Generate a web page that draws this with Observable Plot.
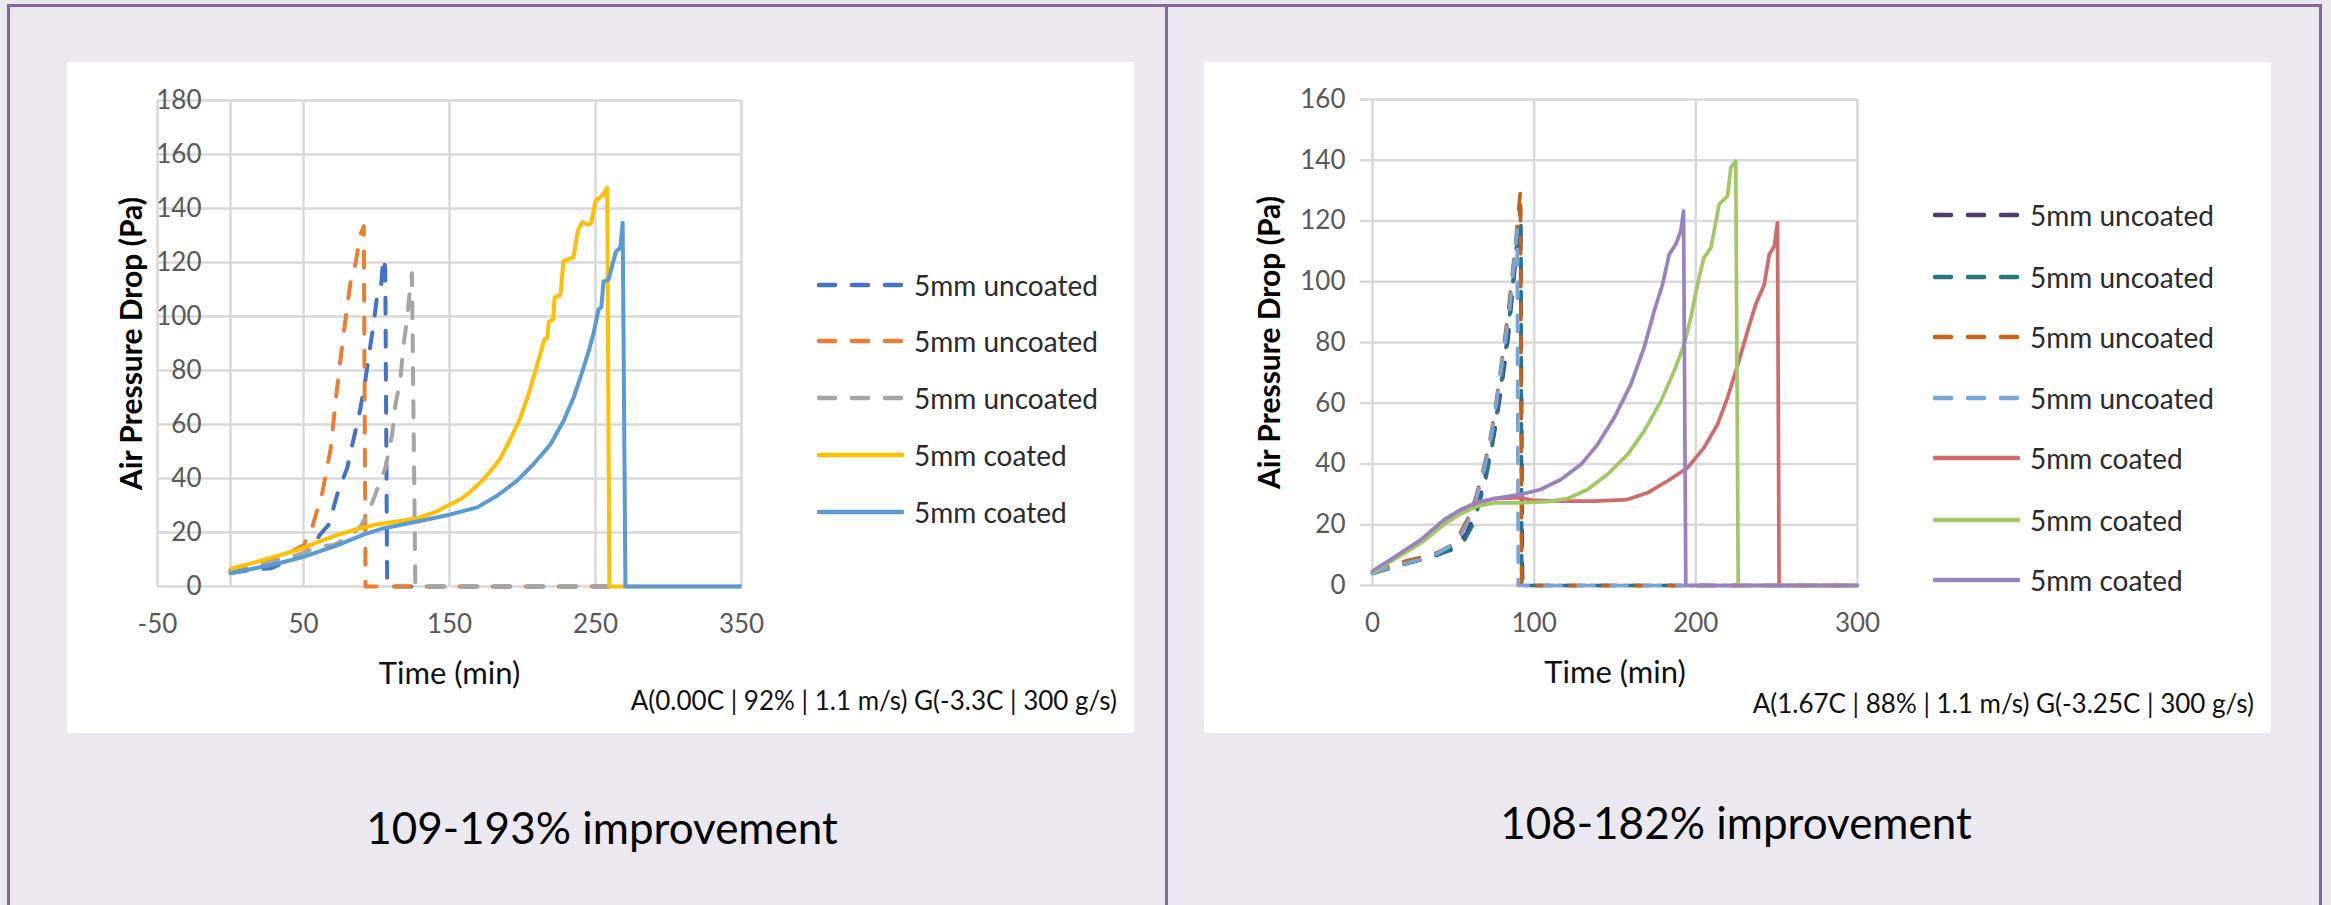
<!DOCTYPE html>
<html>
<head>
<meta charset="utf-8">
<script src="https://cdn.jsdelivr.net/npm/d3@7"></script>
<script src="https://cdn.jsdelivr.net/npm/@observablehq/plot@0.6"></script>
<style>
  html, body { margin: 0; padding: 0; }
  body { width: 2331px; height: 905px; background: #EBE9EF; position: relative; overflow: hidden; font-family: Lato, "Open Sans", sans-serif; }
  .frame { position: absolute; left: 7px; top: 4px; width: 2315px; height: 960px; border: 3px solid #8166A6; box-sizing: border-box; }
  .divider { position: absolute; left: 1165px; top: 4px; width: 3px; height: 905px; background: #8166A6; }
  .box { position: absolute; top: 62px; width: 1067px; height: 671px; background: #fff; }
  .box svg.chart { position: absolute; left: 0; top: 0; }
  .leg { position: absolute; height: 40px; display: flex; align-items: center; font-size: 28px; color: #2b2b2b; white-space: nowrap; }
  .leg svg { margin-right: 10px; }
  .note { position: absolute; font-size: 26px; line-height: 30px; color: #111; white-space: nowrap; }
  .sub { position: absolute; width: 700px; text-align: center; font-size: 44px; line-height: 54px; color: #000; white-space: nowrap; }
  g[aria-label="y-axis label"] { font-size: 30px !important; font-weight: 700 !important; fill: #000 !important; }
  g[aria-label="x-axis label"] { font-size: 31px !important; fill: #111 !important; }
</style>
</head>
<body>
<div class="frame"></div>
<div class="divider"></div>
<div class="box" id="boxL" style="left:67px"></div>
<div class="box" id="boxR" style="left:1204px"></div>
<script>
// ---------- Left chart data (Time min, Air pressure drop Pa) ----------
const L_xTicks = [-50, 50, 150, 250, 350];
const L_yTicks = [0, 20, 40, 60, 80, 100, 120, 140, 160, 180];
const L_names = ["5mm uncoated", "5mm uncoated", "5mm uncoated", "5mm coated", "5mm coated"];
const L_colors = ["#4472C4", "#ED7D31", "#A5A5A5", "#FFC000", "#5B9BD5"];
const L_dashed = [true, true, true, false, false];

const L_uncoatedBlue = [[0,5],[10,5.8],[20,6.5],[28,6.8],[35,8.5],[45,10.5],[52,13],[58,16],[61,19],[67.5,23],[73,34],[80,44],[84.5,55],[89,66],[92.5,77],[96,90],[98,97],[100.5,108],[103,110],[104.6,121.7],[106,118],[107.3,0],[260,0]];
const L_uncoatedOrange = [[0,6],[10,7.8],[20,9],[30,10.5],[40,12.5],[50.4,15.4],[56,22],[63,35],[68.6,51],[73,73.5],[76.6,89.6],[79.5,102],[82.3,113],[85.7,119.8],[89,130.4],[91.3,133.4],[92.5,0],[258,0]];
const L_uncoatedGray = [[0,5.5],[10,6.8],[20,8],[30,9.5],[40,11],[46,11.7],[55,13.5],[63,15],[71,15.4],[80,18],[89,22.2],[94,27],[98.2,32.7],[106,43.8],[110.7,56.2],[113,67.3],[116.4,77.2],[118.6,89.6],[121,99.4],[123.2,111.8],[124.3,116],[126.6,0],[262,0]];
const L_coatedYellow = [[0,6.5],[10,8],[23,9.9],[35,11.8],[49,14],[60,16.5],[73,19],[85,21],[100,23],[115,24.2],[128,25.3],[140,27.5],[150,30.3],[158,32.5],[164,35],[173,39.5],[180,44],[185,47.6],[191,53.8],[198,61.8],[204,71],[210,82],[215,91.5],[217,92],[218,98],[221,99],[222,107],[226,108],[228,120.5],[233,121.5],[235,122],[238,132],[241,135],[245,134],[247,134.5],[250,142.8],[255,145],[258,147.7],[259.5,0],[350,0]];
const L_coatedBlue = [[0,4.9],[10,6],[23,7.4],[35,8.9],[49,10.8],[60,12.8],[73,15.2],[91,19.2],[105,21.6],[128,24.1],[150,26.6],[169,29.3],[182,33.4],[196,39],[207,45],[219,52.5],[228,61.2],[235,70],[241,79.7],[246,88.4],[249,94.6],[252,102.5],[254,103.5],[255.5,113],[259,113.7],[262,120],[264,124],[267,125.5],[268.6,134.7],[270.5,0],[350,0]];

// ---------- Right chart data ----------
const R_xTicks = [0, 100, 200, 300];
const R_yTicks = [0, 20, 40, 60, 80, 100, 120, 140, 160];
const R_names = ["5mm uncoated", "5mm uncoated", "5mm uncoated", "5mm uncoated", "5mm coated", "5mm coated", "5mm coated"];
const R_colors = ["#4F3C6E", "#2C7385", "#C4621A", "#78A5D8", "#D26A6A", "#A0C864", "#9B82BE"];
const R_dashed = [true, true, true, true, false, false, false];

const R_uncoatedPurple = [[0,4.2],[10,5.8],[20,7.3],[30,8.5],[40,10],[50,12.5],[58,17],[63,23],[67,30],[71,39],[75,49],[78,59],[81,70],[84,82],[86,93],[88,104],[90,114],[91.5,124.5],[92.8,0],[300,0]];
const R_uncoatedTeal = [[0,4],[10,5.5],[20,7],[30,8.5],[40,10],[50,12],[57,15],[62,20],[66,27],[70,35],[74,46],[77,57],[80,68],[83,80],[86,95],[88,106],[90,116],[91.8,120],[92.3,0],[300,0]];
const R_uncoatedOrange = [[0,4.5],[10,6.3],[20,8],[30,9.2],[40,10.8],[48,13],[54,17],[59,22],[64,29],[68,37],[72,46],[75,55],[78,66],[81,78],[84,90],[86,100],[88,110],[90,121],[91.5,130],[92.3,0],[300,0]];
const R_uncoatedLightBlue = [[0,4],[10,5.8],[20,7.2],[30,8.6],[40,10.5],[48,13],[54,16],[59,21],[64,28],[69,38],[73,48],[76,58],[79,69],[82,80],[85,92],[87,103],[88.5,112],[89.5,117],[90.2,0],[300,0]];
const R_coatedRed = [[0,4.7],[13.4,9.1],[30,14.6],[44.3,21.2],[54.6,24.5],[65,27.2],[75.3,28.6],[91.8,28.9],[100,28],[116.5,27.8],[137,27.8],[157.7,28.3],[170,30.5],[182.5,34.4],[194.8,38.7],[205,45.3],[213.4,53],[219.6,61.8],[226,72.8],[232,83.8],[237,92.5],[242.3,99],[245.4,109],[248.5,111.7],[250.5,119.4],[251.5,0],[300,0]];
const R_coatedGreen = [[0,4.2],[13.4,8.6],[30,14],[44.3,20.1],[54.6,23.6],[65,26.1],[75.3,27.2],[91.8,27.2],[108,27.6],[120.6,28.6],[133,31.6],[145.4,36.6],[157.7,43.1],[168,50.8],[178.4,60.7],[186.6,70.6],[192.8,79.4],[196.9,88.1],[201,99.1],[205,107.9],[209.3,111.2],[211.3,116.7],[214.4,125.5],[219.6,128.2],[221.6,137.5],[224.7,139.7],[226.2,0],[300,0]];
const R_coatedPurple = [[0,4.7],[13.4,9.3],[30,15.1],[44.3,21.7],[54.6,25],[65,27.4],[75.3,28.6],[91.8,30],[104,31.6],[116.5,34.9],[128.9,39.8],[139.2,46.4],[149.5,55.2],[159.8,66.2],[168,78.3],[174.2,90.3],[179.4,99.1],[183.5,109],[187.6,112.3],[190.7,116.7],[192.4,123.3],[193.8,0],[300,0]];

const L_series = [L_uncoatedBlue, L_uncoatedOrange, L_uncoatedGray, L_coatedYellow, L_coatedBlue];
const R_series = [R_uncoatedPurple, R_uncoatedTeal, R_uncoatedOrange, R_uncoatedLightBlue, R_coatedRed, R_coatedGreen, R_coatedPurple];

const fmt = d => String(d);
const GRID = "#D9D9D9";

function chart(cfg) {
  const marks = [
    Plot.gridX(cfg.xTicks, {stroke: GRID, strokeOpacity: 1, strokeWidth: 2.5}),
    Plot.gridY(cfg.yTicks, {stroke: GRID, strokeOpacity: 1, strokeWidth: 2.5})
  ];
  if (cfg.axisAt0) marks.push(Plot.ruleX([0], {stroke: GRID, strokeWidth: 2.5}));
  marks.push(Plot.axisY(cfg.yTicks, {
    anchor: "left", tickSize: cfg.yTickSize, tickPadding: cfg.yTickPadding,
    stroke: GRID, strokeWidth: 2.5, fill: "#595959", fontSize: 26, tickFormat: fmt,
    label: "Air Pressure Drop (Pa)", labelAnchor: "center", labelOffset: cfg.yLabelOffset, labelArrow: "none"
  }));
  marks.push(Plot.axisX(cfg.xTicks, {
    anchor: "bottom", tickSize: 0, tickPadding: 28, fill: "#595959", fontSize: 26, tickFormat: fmt,
    label: "Time (min)", labelAnchor: "center", labelOffset: 97, labelArrow: "none"
  }));
  cfg.series.forEach((data, i) => {
    marks.push(Plot.line(data, {
      x: d => d[0], y: d => d[1], stroke: cfg.colors[i], strokeWidth: cfg.strokeWidth,
      strokeDasharray: cfg.dashed[i] ? "16,17" : undefined,
      strokeLinecap: cfg.dashed[i] ? "round" : "butt", strokeLinejoin: "round"
    }));
  });
  const svg = Plot.plot({
    width: 1067, height: 671,
    marginLeft: cfg.marginLeft, marginRight: cfg.marginRight, marginTop: cfg.marginTop, marginBottom: cfg.marginBottom,
    x: {domain: cfg.xDomain}, y: {domain: cfg.yDomain},
    style: {fontFamily: "Lato, 'Open Sans', sans-serif", fontSize: "26px", background: "transparent", overflow: "visible"},
    marks
  });
  svg.classList.add("chart");
  return svg;
}

document.getElementById("boxL").appendChild(chart({
  xDomain: [-50, 350], yDomain: [0, 180], xTicks: L_xTicks, yTicks: L_yTicks, axisAt0: true,
  marginLeft: 90, marginRight: 393, marginTop: 38, marginBottom: 147,
  yTickSize: 0, yTickPadding: -44, yLabelOffset: 37, strokeWidth: 4,
  series: L_series, colors: L_colors, dashed: L_dashed
}));
document.getElementById("boxR").appendChild(chart({
  xDomain: [0, 300], yDomain: [0, 160], xTicks: R_xTicks, yTicks: R_yTicks, axisAt0: false,
  marginLeft: 168, marginRight: 414, marginTop: 37, marginBottom: 148,
  yTickSize: 12, yTickPadding: 15, yLabelOffset: 114, strokeWidth: 3.7,
  series: R_series, colors: R_colors, dashed: R_dashed
}));

// ---------- legends ----------
function legend(names, colors, dashed, left, tops, sw) {
  names.forEach((name, i) => {
    const row = document.createElement("div");
    row.className = "leg";
    row.style.left = left + "px";
    row.style.top = (tops[i] - 20) + "px";
    row.innerHTML = `<svg width="87" height="10"><line x1="2" x2="85" y1="5" y2="5" stroke="${colors[i]}" stroke-width="${sw}" stroke-linecap="round" ${dashed[i] ? 'stroke-dasharray="16,17"' : ''}/></svg><span>${name}</span>`;
    document.body.appendChild(row);
  });
}
legend(L_names, L_colors, L_dashed, 817, [285, 341, 398, 455, 512], 4.5);
legend(R_names, R_colors, R_dashed, 1933, [215, 277, 337, 398, 458, 520, 580], 4.5);

// ---------- notes and subtitles ----------
function addText(cls, text, style) {
  const d = document.createElement("div");
  d.className = cls;
  d.textContent = text;
  Object.assign(d.style, style);
  document.body.appendChild(d);
}
addText("note", "A(0.00C | 92% | 1.1 m/s) G(-3.3C | 300 g/s)", {right: "1214px", top: "685px"});
addText("note", "A(1.67C | 88% | 1.1 m/s) G(-3.25C | 300 g/s)", {right: "77px", top: "688px"});
addText("sub", "109-193% improvement", {left: "252px", top: "800px"});
addText("sub", "108-182% improvement", {left: "1386px", top: "795px"});
</script>
</body>
</html>
